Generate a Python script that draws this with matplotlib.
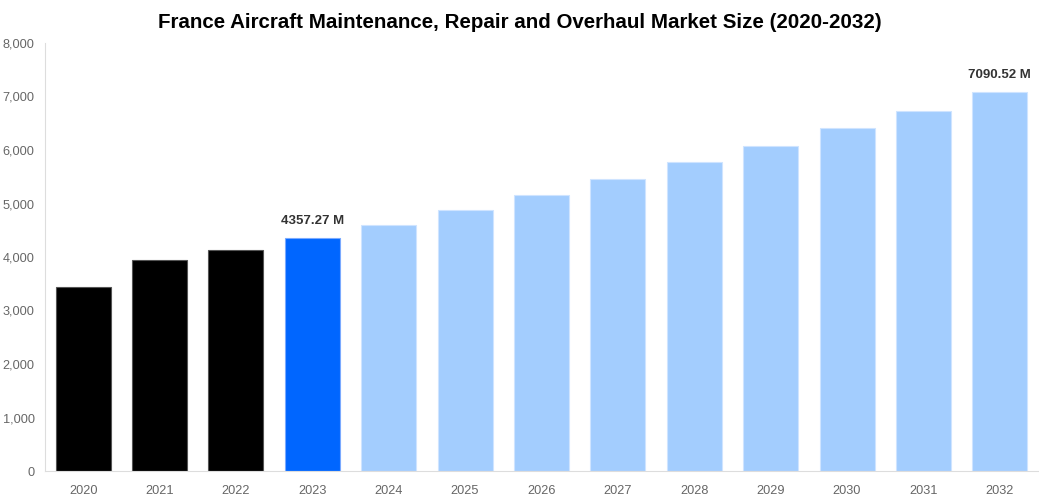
import matplotlib
matplotlib.use("Agg")
import matplotlib.pyplot as plt

plt.rcParams['font.family'] = ['Liberation Sans', 'DejaVu Sans']

years = ["2020", "2021", "2022", "2023", "2024", "2025", "2026",
         "2027", "2028", "2029", "2030", "2031", "2032"]
values = [3440, 3945, 4130, 4357.27, 4600, 4880, 5160,
          5460, 5775, 6075, 6410, 6730, 7090.52]
colors = ["#000000"] * 3 + ["#0066ff"] + ["#a3cdfe"] * 9
edges = ["#555555"] * 3 + ["#7aaaff"] + ["#cfe4ff"] * 9
labels = {3: "4357.27 M", 12: "7090.52 M"}

fig = plt.figure(figsize=(10.39, 5), dpi=100)
ax = fig.add_axes([45/1039, 29/500, 993/1039, 428/500])

x = range(len(years))
ax.bar(x, values, width=0.72, color=colors, edgecolor=edges, linewidth=0.8, zorder=2)
for i, txt in labels.items():
    ax.annotate(txt, (i, values[i]), xytext=(0, 8), textcoords="offset points",
                ha="center", va="bottom", fontsize=9.5, fontweight="bold", color="#333333")

ax.set_xlim(-0.5, len(years) - 0.5)
ax.set_ylim(0, 8000)
ax.set_yticks(range(0, 8001, 1000))
ax.set_yticklabels([f"{v:,}" for v in range(0, 8001, 1000)])
ax.set_xticks(list(x))
ax.set_xticklabels(years)
ax.tick_params(axis="both", length=0, labelsize=9.2, colors="#666666")
ax.tick_params(axis="x", pad=10)
ax.tick_params(axis="y", pad=7.5)
for s in ["top", "right"]:
    ax.spines[s].set_visible(False)
for s in ["left", "bottom"]:
    ax.spines[s].set_color("#dddddd")
    ax.spines[s].set_linewidth(0.8)

fig.suptitle("France Aircraft Maintenance, Repair and Overhaul Market Size (2020-2032)",
             x=0.5, y=0.975, fontsize=14.8, fontweight="bold", color="#000000")

fig.savefig("out.png", dpi=100)
